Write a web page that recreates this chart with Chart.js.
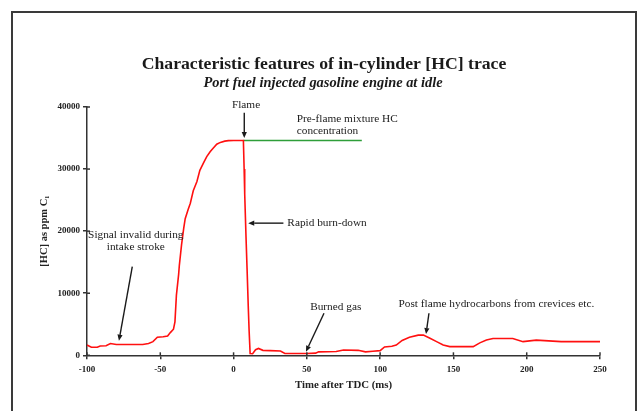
<!DOCTYPE html>
<html>
<head>
<meta charset="utf-8">
<script src="https://cdn.jsdelivr.net/npm/chart.js@4.4.1/dist/chart.umd.min.js"></script>
<style>
html,body{margin:0;padding:0;background:#fff;}
#wrap{width:639px;height:411px;}
</style>
</head>
<body>
<div id="wrap"><canvas id="c" width="639" height="411"></canvas></div>
<script>
// ---- data ----
const timeMs = [-100,-97,-93,-91,-87,-84,-80,-70,-62,-58,-55,-52,-48,-45,-43,-41,-40,-39,-37.5,-37,-35.5,-34,-33,-31,-29.5,-27.5,-25,-23,-20.5,-18.3,-16,-13.8,-11.5,-9,-6,-3.5,0,6.7,7.2,7.6,8.5,9.2,10,10.6,11.3,13,15,17,20,25,32,35,50,56,58,70,75,85,90,95,100,103,108,111,115,120,126,129.5,134,138.5,143,147.5,163.5,168,172.5,177,190.5,197.5,206.5,223.5,250];
const hcPpm = [1650,1300,1300,1500,1550,1900,1750,1750,1750,1900,2200,2900,3000,3100,3700,4200,5400,9700,13000,14500,17800,20500,22000,23500,24500,26500,28000,29800,31000,32000,32800,33400,34000,34300,34500,34580,34600,34600,30000,26000,19000,14000,8000,4000,300,250,900,1100,800,750,700,300,300,350,550,600,850,800,550,650,750,1350,1450,1650,2400,2900,3250,3250,2750,2200,1650,1400,1400,2000,2450,2700,2700,2200,2450,2200,2200];
const preFlameTime = [6.7, 87.5];
const preFlamePpm = [34600, 34600];
const xTicks = [-100,-50,0,50,100,150,200,250];
const yTicks = [0,10000,20000,30000,40000];

const titleText = 'Characteristic features of in-cylinder [HC] trace';
const subtitleText = 'Port fuel injected gasoline engine at idle';
const xTitle = 'Time after TDC (ms)';
const yTitle = '[HC] as ppm C\u2081';

// annotations in data coordinates
const notes = [
  {lines:['Flame'], x:8.5, y:40370, align:'center'},
  {lines:['Pre-flame mixture HC','concentration'], x:43.1, y:38065, align:'left'},
  {lines:['Rapid burn-down'], x:36.7, y:21290, align:'left'},
  {lines:['Signal invalid during','intake stroke'], x:-66.7, y:19400, align:'center'},
  {lines:['Burned gas'], x:69.7, y:7740, align:'center'},
  {lines:['Post flame hydrocarbons from crevices etc.'], x:179.3, y:8270, align:'center'}
];
const arrows = [
  {from:[7.3,39080], to:[7.3,35000]},
  {from:[34,21290], to:[10,21290]},
  {from:[-69.1,14290], to:[-78.2,2350]},
  {from:[61.7,6770], to:[49.4,580]},
  {from:[133.3,6770], to:[131.3,3435]}
];

const SERIF = '"Liberation Serif", "Times New Roman", serif';

const decor = {
  id:'decor',
  beforeDraw(chart){
    const ctx = chart.ctx;
    ctx.save();
    ctx.fillStyle = '#fff';
    ctx.fillRect(0,0,chart.width,chart.height);
    ctx.strokeStyle = '#3a3a3a';
    ctx.lineWidth = 2;
    ctx.strokeRect(12, 12, 624, 420);
    ctx.restore();
  },
  afterDraw(chart){
    const ctx = chart.ctx;
    const xs = chart.scales.x, ys = chart.scales.y;
    const ca = chart.chartArea;
    ctx.save();
    // inner halves of the crossing tick marks
    ctx.strokeStyle = '#333'; ctx.lineWidth = 1.5;
    xs.ticks.forEach(t => { const p = xs.getPixelForValue(t.value); ctx.beginPath(); ctx.moveTo(p, ca.bottom); ctx.lineTo(p, ca.bottom-3); ctx.stroke(); });
    ys.ticks.forEach(t => { const p = ys.getPixelForValue(t.value); ctx.beginPath(); ctx.moveTo(ca.left, p); ctx.lineTo(ca.left+3, p); ctx.stroke(); });

    ctx.fillStyle = '#1a1a1a';
    ctx.textBaseline = 'middle';
    ctx.textAlign = 'center';
    ctx.font = 'bold 17.7px ' + SERIF;
    ctx.fillText(titleText, 324, 64);
    ctx.font = 'italic bold 14.4px ' + SERIF;
    ctx.fillText(subtitleText, 323, 83.5);
    ctx.font = '11.3px ' + SERIF;
    notes.forEach(n => {
      ctx.textAlign = n.align;
      const px = xs.getPixelForValue(n.x);
      let py = ys.getPixelForValue(n.y);
      n.lines.forEach((l,i) => ctx.fillText(l, px, py + i*12.5));
    });
    ctx.strokeStyle = '#1a1a1a';
    ctx.lineWidth = 1.4;
    arrows.forEach(a => {
      const x1 = xs.getPixelForValue(a.from[0]), y1 = ys.getPixelForValue(a.from[1]);
      const x2 = xs.getPixelForValue(a.to[0]), y2 = ys.getPixelForValue(a.to[1]);
      const ang = Math.atan2(y2-y1, x2-x1);
      const hl = 6, hw = 2.6;
      const bx = x2 - hl*Math.cos(ang), by = y2 - hl*Math.sin(ang);
      ctx.beginPath(); ctx.moveTo(x1,y1); ctx.lineTo(bx,by); ctx.stroke();
      ctx.beginPath();
      ctx.moveTo(x2,y2);
      ctx.lineTo(bx + hw*Math.sin(ang), by - hw*Math.cos(ang));
      ctx.lineTo(bx - hw*Math.sin(ang), by + hw*Math.cos(ang));
      ctx.closePath(); ctx.fillStyle = '#1a1a1a'; ctx.fill();
    });
    ctx.restore();
  }
};

new Chart(document.getElementById('c'), {
  type:'line',
  data:{
    datasets:[
      {data: timeMs.map((t,i)=>({x:t,y:hcPpm[i]})), borderColor:'#ff1010', borderWidth:1.6, pointRadius:0, tension:0, fill:false},
      {data: preFlameTime.map((t,i)=>({x:t,y:preFlamePpm[i]})), borderColor:'#2e9e3a', borderWidth:1.4, pointRadius:0, fill:false}
    ]
  },
  options:{
    responsive:false,
    animation:false,
    events:[],
    layout:{padding:{top:107, right:39, left:0, bottom:0}},
    plugins:{legend:{display:false}, tooltip:{enabled:false}, title:{display:false}},
    scales:{
      x:{
        type:'linear', min:-100, max:250,
        afterBuildTicks(s){ s.ticks = xTicks.map(v=>({value:v})); },
        afterFit(s){ s.height = 55.7; },
        grid:{drawOnChartArea:false, drawTicks:true, tickLength:4, color:'#333', lineWidth:1.5},
        border:{color:'#333', width:1.5},
        ticks:{color:'#222', padding:5, maxRotation:0, font:{family:SERIF, size:9, weight:'bold'}},
        title:{display:true, text:xTitle, color:'#222', padding:{top:0,bottom:19}, font:{family:SERIF, size:10.8, weight:'bold'}}
      },
      y:{
        type:'linear', min:0, max:40000,
        afterBuildTicks(s){ s.ticks = yTicks.map(v=>({value:v})); },
        afterFit(s){ s.width = 87; },
        grid:{drawOnChartArea:false, drawTicks:true, tickLength:4, color:'#333', lineWidth:1.5},
        border:{color:'#333', width:1.5},
        ticks:{color:'#222', padding:3, font:{family:SERIF, size:9, weight:'bold'}, callback:v=>String(v)},
        title:{display:true, text:yTitle, color:'#222', padding:{top:38,bottom:0}, font:{family:SERIF, size:10.5, weight:'bold'}}
      }
    }
  },
  plugins:[decor]
});
</script>
</body>
</html>
